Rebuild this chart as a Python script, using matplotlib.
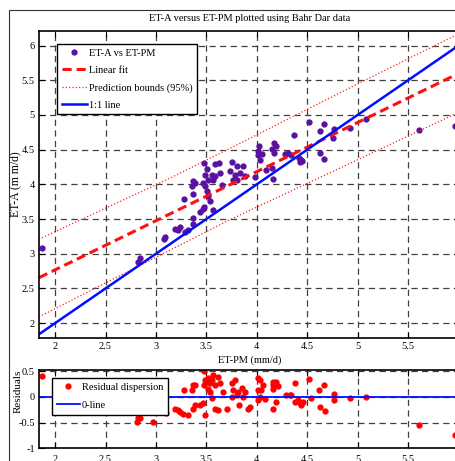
import matplotlib

matplotlib.use("Agg")
import matplotlib.pyplot as plt
from matplotlib.patches import Rectangle

OUT = "out.png"

# scatter: ET-A against ET-PM (mm/d)
ET_PM = [1.874, 2.825, 2.842, 3.082, 3.089, 3.188, 3.221, 3.238, 3.287, 3.320,
         3.369, 3.369, 3.436, 3.468, 3.475, 3.567, 3.280, 3.369, 3.353, 3.386,
         3.369, 3.485, 3.508, 3.518, 3.535, 3.468, 3.485, 3.557, 3.584, 3.518,
         3.567, 3.656, 3.478, 3.584, 3.627, 3.502, 3.634, 3.733, 3.782, 3.832,
         3.881, 3.765, 3.799, 3.750, 3.799, 3.864, 4.013, 4.007, 4.056, 4.030,
         4.023, 4.171, 4.188, 4.155, 4.171, 4.089, 4.155, 4.161, 4.284, 4.310,
         4.344, 4.369, 4.419, 4.436, 4.426, 4.452, 4.518, 4.624, 4.663, 4.624,
         4.663, 4.762, 4.755, 4.921, 5.604, 5.970, 3.980, 5.079]
ET_A = [3.079, 2.886, 2.935, 3.210, 3.247, 3.358, 3.344, 3.383, 3.319, 3.344,
        3.431, 3.513, 3.608, 3.643, 3.672, 3.633, 3.788, 3.864, 3.970, 4.019,
        4.042, 3.970, 3.897, 3.825, 3.753, 4.019, 4.139, 4.139, 4.114, 4.066,
        4.066, 3.994, 4.308, 4.298, 4.308, 4.221, 4.163, 4.186, 4.139, 4.163,
        4.114, 4.066, 4.066, 4.317, 4.259, 4.269, 4.475, 4.428, 4.442, 4.345,
        4.548, 4.597, 4.548, 4.510, 4.452, 4.211, 4.236, 4.077, 4.438, 4.452,
        4.428, 4.717, 4.380, 4.345, 4.316, 4.341, 4.895, 4.764, 4.876, 4.452,
        4.366, 4.799, 4.669, 4.814, 4.779, 4.847, 4.105, 4.946]

# residuals
RES_X = [1.874, 2.809, 2.825, 2.842, 2.973, 3.099, 3.188, 3.215, 3.238, 3.270,
         3.320, 3.280, 3.369, 3.386, 3.353, 3.369, 3.386, 3.436, 3.468, 3.485,
         3.478, 3.485, 3.502, 3.518, 3.535, 3.551, 3.478, 3.512, 3.535, 3.567,
         3.617, 3.634, 3.584, 3.557, 3.584, 3.617, 3.666, 3.700, 3.782, 3.750,
         3.815, 3.765, 3.799, 3.750, 3.825, 3.858, 3.881, 3.864, 3.931, 3.914,
         4.013, 4.030, 4.013, 4.046, 4.030, 4.013, 4.062, 4.079, 4.161, 4.161,
         4.195, 4.161, 4.211, 4.161, 4.195, 4.294, 4.327, 4.344, 4.376, 4.376,
         4.409, 4.426, 4.442, 4.458, 4.515, 4.542, 4.617, 4.666, 4.624, 4.673,
         4.762, 4.762, 4.921, 5.079, 5.607, 5.970]
RES_Y = [0.41, -0.48, -0.42, -0.41, -0.48, -0.32, -0.24, -0.26, -0.29, -0.33,
         -0.35, 0.13, -0.23, -0.16, 0.13, 0.23, 0.22, -0.16, -0.13, -0.36,
         0.50, 0.33, 0.29, 0.36, 0.26, 0.33, 0.23, 0.16, 0.10, 0.43,
         0.39, 0.26, 0.23, -0.03, -0.23, -0.26, 0.10, -0.23, 0.33, 0.26,
         0.10, 0.13, 0.03, 0.00, -0.16, 0.18, 0.10, 0.00, -0.20, -0.23,
         0.36, 0.33, 0.13, 0.13, 0.00, -0.06, 0.23, -0.05, 0.29, 0.23,
         0.29, 0.16, 0.20, -0.23, -0.10, 0.03, 0.03, 0.03, 0.26, -0.10,
         -0.06, -0.13, -0.16, -0.10, 0.35, -0.03, 0.13, 0.22, -0.20, -0.28,
         0.05, -0.06, -0.02, 0.00, -0.55, -0.75]

FIT_X = [1.84, 6.015]
FIT_Y = [2.655, 5.609]
UPPER_X = [1.84, 3.106, 3.713, 5.0, 6.015]
UPPER_Y = [3.21, 4.066, 4.504, 5.448, 6.18]
LOWER_X = [1.84, 3.0, 3.713, 4.577, 6.015]
LOWER_Y = [2.091, 2.949, 3.476, 4.066, 5.047]
ONE_X = [1.84, 6.015]

X_TICKS = [2, 2.5, 3, 3.5, 4, 4.5, 5, 5.5]
Y_TICKS = [2, 2.5, 3, 3.5, 4, 4.5, 5, 5.5, 6]
RES_TICKS = [-1, -0.5, 0, 0.5]

W, H = 456, 461
FS = 7.5


def style_axes(ax):
    ax.grid(True, color="0.25", linestyle=(0, (5, 3.5)), linewidth=0.9)
    ax.set_axisbelow(True)
    ax.tick_params(direction="in", length=4, width=0.8, top=True, right=True,
                   labelsize=FS, pad=3)
    for sp in ax.spines.values():
        sp.set_linewidth(1.2)


def main():
    plt.rcParams["font.family"] = ["Liberation Serif", "DejaVu Serif"]
    fig = plt.figure(figsize=(W / 100, H / 100), dpi=100)

    ax0 = fig.add_axes([39 / W, 1 - 337.7 / H, 421 / W, 306.7 / H])
    ax1 = fig.add_axes([39 / W, 1 - 448.3 / H, 421 / W, 78.3 / H])

    ax0.plot(ET_PM, ET_A, "o", color="#5a10a0", markersize=3.5, label="ET-A vs ET-PM")
    ax0.plot(FIT_X, FIT_Y, color="#ff1010", linestyle=(0, (3, 1.6)), linewidth=2.2,
             label="Linear fit")
    ax0.plot(UPPER_X, UPPER_Y, color="#ff2020", linestyle=":", linewidth=0.9,
             label="Prediction bounds (95%)")
    ax0.plot(LOWER_X, LOWER_Y, color="#ff2020", linestyle=":", linewidth=0.9)
    ax0.plot(ONE_X, ONE_X, color="#0010ff", linewidth=1.8, label="1:1 line")

    ax0.set_xlim(1.84, 6.015)
    ax0.set_ylim(1.79, 6.21)
    ax0.set_xticks(X_TICKS)
    ax0.set_xticklabels([f"{t:g}" for t in X_TICKS])
    ax0.set_yticks(Y_TICKS)
    ax0.set_yticklabels([f"{t:g}" for t in Y_TICKS])
    style_axes(ax0)
    ax0.set_xlabel("ET-PM (mm/d)", fontsize=FS, labelpad=3)
    ax0.set_ylabel("ET-A (m m/d)", fontsize=8.5, labelpad=0.5)
    ax0.set_title("ET-A versus ET-PM plotted using Bahr Dar data", fontsize=FS, pad=7)
    leg0 = ax0.legend(loc="upper left", bbox_to_anchor=(18 / 421, 1 - 13 / 306.7),
                      borderaxespad=0, fontsize=FS, fancybox=False, framealpha=1,
                      edgecolor="black", handlelength=2.4, labelspacing=0.75,
                      handletextpad=0.2, borderpad=0.45)
    leg0.get_frame().set_linewidth(1.0)

    ax1.plot(RES_X, RES_Y, "o", color="#ff0000", markersize=3.5,
             label="Residual dispersion")
    ax1.axhline(0, color="#0010ff", linewidth=1.3, label="0-line")
    ax1.set_xlim(1.84, 6.015)
    ax1.set_ylim(-1.0, 0.52)
    ax1.set_xticks(X_TICKS)
    ax1.set_xticklabels([f"{t:g}" for t in X_TICKS])
    ax1.set_yticks(RES_TICKS)
    ax1.set_yticklabels([f"{t:g}" for t in RES_TICKS])
    style_axes(ax1)
    ax1.tick_params(axis="x", pad=5)
    leg1 = ax1.legend(loc="upper left", bbox_to_anchor=(13 / 421, 0.90),
                      borderaxespad=0, fontsize=FS, fancybox=False, framealpha=1,
                      edgecolor="black", handlelength=2.2, labelspacing=0.85,
                      handletextpad=0.2, borderpad=0.45)
    leg1.get_frame().set_linewidth(1.0)
    fig.text(18 / W, 1 - 391 / H, "Residuals", rotation=90, fontsize=8,
             ha="center", va="center")

    fig.add_artist(Rectangle((9 / W, -0.1), 1.2, 1.1 - 10 / H, transform=fig.transFigure,
                             fill=False, edgecolor="0.2", linewidth=0.8))

    fig.savefig(OUT, dpi=100)


if __name__ == "__main__":
    main()
